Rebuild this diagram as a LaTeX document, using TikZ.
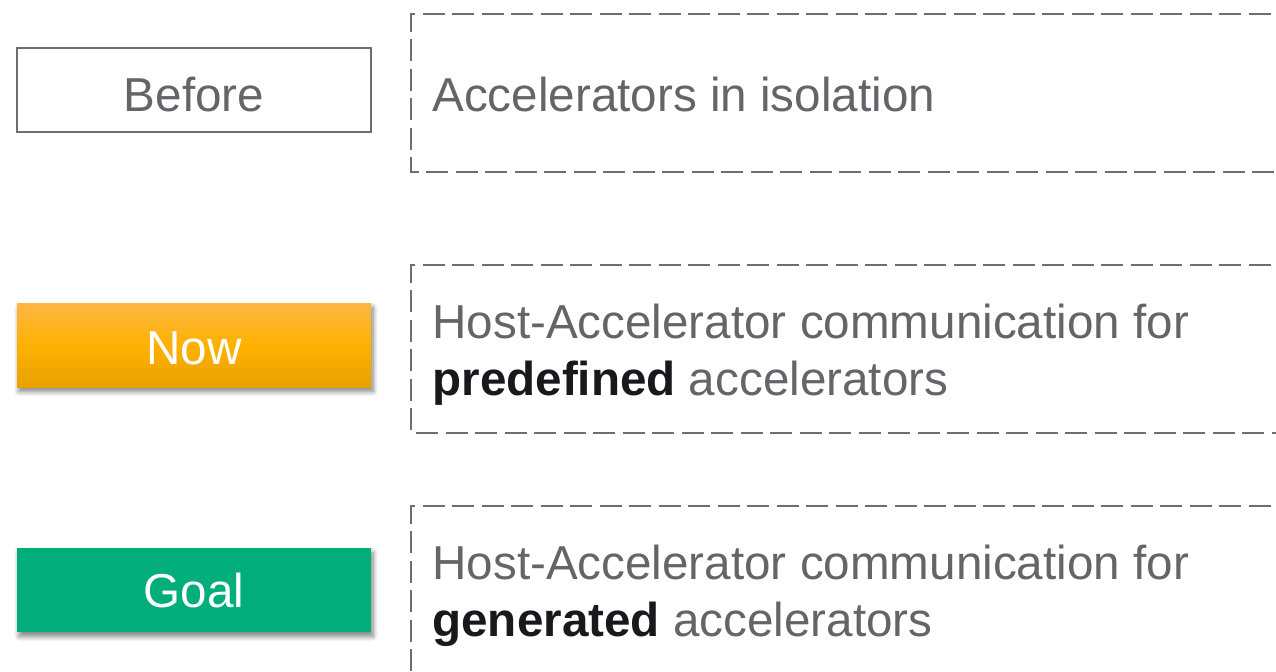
\documentclass[tikz,border=0pt]{standalone}
\usepackage{fontspec}
\setmainfont{Liberation Sans}
\usetikzlibrary{shadows.blur}
\definecolor{txtgray}{HTML}{646469}
\definecolor{framegray}{HTML}{6E6E70}
\definecolor{boldblack}{HTML}{18191C}
\definecolor{nowtop}{HTML}{FDB743}
\definecolor{nowmid}{HTML}{FFB100}
\definecolor{nowbot}{HTML}{E8A100}
\definecolor{goalgreen}{HTML}{00AD7B}
\tikzset{
  stage/.style={minimum width=177pt, minimum height=42pt, inner sep=0pt,
    font=\fontsize{23.8}{28.5}\selectfont},
  plainstage/.style={stage, draw=framegray, line width=1pt, fill=white, text=txtgray},
  colorstage/.style={stage, text=white,
    blur shadow={shadow xshift=1pt, shadow yshift=-2pt, shadow blur steps=8,
      shadow blur radius=2.5pt, shadow opacity=50}},
  frame/.style={draw=framegray, line width=1pt, dash pattern=on 11pt off 3.75pt},
  desc/.style={anchor=base west, inner sep=0pt, align=left, text=txtgray,
    font=\fontsize{23.8}{28.5}\selectfont},
}
\newcommand{\keyword}[1]{\textcolor{boldblack}{\textbf{#1}}}
\begin{document}
\begin{tikzpicture}[x=0.5pt, y=-0.5pt]
  \useasboundingbox (0,0) rectangle (1276,672);
  \clip (0,0) rectangle (1276,672);

  % stage labels on the left
  \node[plainstage, text height=21.4pt, text depth=0pt] (before) at (194,90) {Before};
  \node[colorstage, top color=nowtop, bottom color=nowbot, middle color=nowmid,
        text height=19.4pt, text depth=0pt] (now) at (194,345.5) {Now};
  \node[colorstage, fill=goalgreen] (goal) at (194,590.5) {Goal};

  % dashed frames, open towards the right edge
  \draw[frame] (1300,14) -- (411,14) -- (411,172) -- (1300,172);
  \draw[frame] (1300,265) -- (411,265) -- (411,433) -- (1300,433);
  \draw[frame] (1300,506) -- (411,506) -- (411,700);

  % descriptions (base anchor sits on the last line)
  \node[desc] (d1) at (432,112) {Accelerators in isolation};
  \node[desc] (d2) at (432,396) {Host-Accelerator communication for\\\keyword{predefined} accelerators};
  \node[desc] (d3) at (432,637) {Host-Accelerator communication for\\\keyword{generated} accelerators};
\end{tikzpicture}
\end{document}
